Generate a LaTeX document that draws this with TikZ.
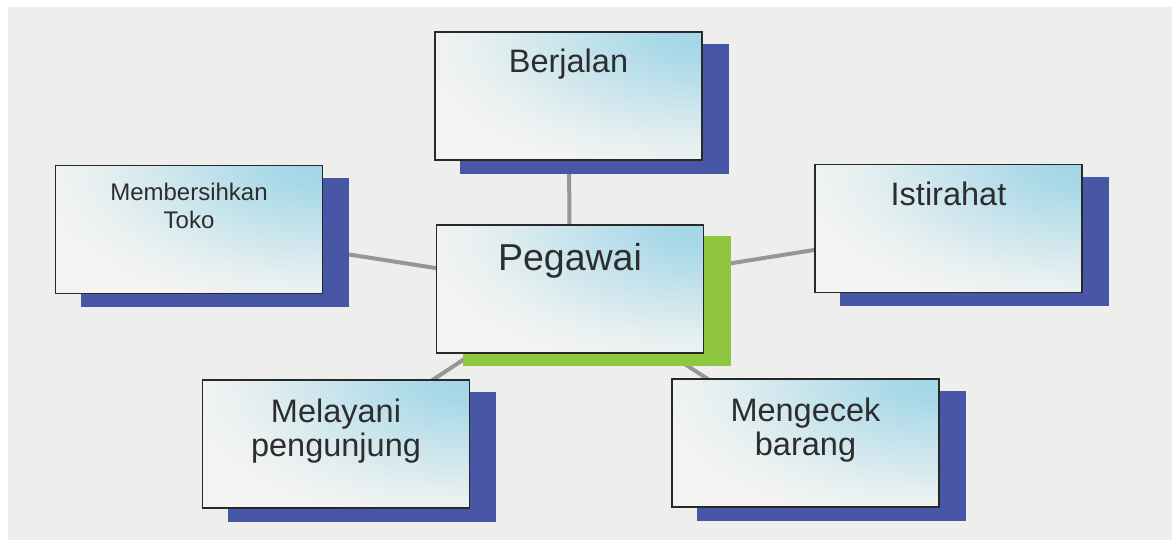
\documentclass[tikz,border=0pt]{standalone}
\usepackage{fontspec}
\setmainfont{Liberation Sans}
\usetikzlibrary{backgrounds}

\definecolor{paper}{RGB}{238,238,236}
\definecolor{boxblue}{RGB}{162,214,231}
\definecolor{boxpale}{RGB}{243,244,242}
\definecolor{shadeblue}{RGB}{72,86,166}
\definecolor{shadegreen}{RGB}{142,198,64}
\definecolor{linkgray}{RGB}{150,150,150}
\definecolor{inkgray}{RGB}{45,45,45}
\definecolor{edgegray}{RGB}{40,40,40}

% sky-blue glow spreading from the upper right corner of each box
\pgfdeclareradialshading{cornerglow}{\pgfpointorigin}{%
  color(0bp)=(boxblue); color(4bp)=(boxblue!92!boxpale);
  color(12.5bp)=(boxblue!50!boxpale); color(20bp)=(boxblue!14!boxpale);
  color(25bp)=(boxpale); color(50bp)=(boxpale)}

% box text: size, line skip, height of the first line above its baseline
\newcommand\tasktext[4]{\parbox[c][128pt][t]{262pt}{\centering\fontsize{#1}{#2}\selectfont\rule{0pt}{#3}#4\par}}

\tikzset{
  task/.style={draw=edgegray, line width=1.3pt, fill=boxpale,
    path picture={\shade[shading=cornerglow] (path picture bounding box.north east)
      ellipse [x radius=285pt, y radius=145pt];},
    minimum width=267pt, minimum height=128pt, inner sep=0pt, text=inkgray},
  link/.style={draw=linkgray, line width=4pt},
}

\begin{document}
\begin{tikzpicture}[x=1pt,y=-1pt]
  \useasboundingbox (0,0) rectangle (1172,540);

  % activity boxes
  \node[task] (ber) at (568.5,96)  {\tasktext{32.5}{35}{41pt}{Berjalan}};
  \node[task] (peg) at (570,289)   {\tasktext{37.5}{40}{45pt}{Pegawai}};
  \node[task] (mem) at (189,229.5) {\tasktext{24}{28}{35pt}{Membersihkan\\Toko}};
  \node[task] (ist) at (948.5,228.5) {\tasktext{32.5}{35}{41pt}{Istirahat}};
  \node[task] (mel) at (336,444)   {\tasktext{32.5}{34}{42pt}{Melayani\\pengunjung}};
  \node[task] (men) at (805.5,443) {\tasktext{32.5}{34}{42pt}{Mengecek\\barang}};

  \begin{scope}[on background layer]
    % paper
    \fill[white] (0,0) rectangle (1172,540);
    \fill[paper] (8,7) rectangle (1172,540);
    % connectors between box centres
    \foreach \n in {ber,mem,ist,mel,men}
      \draw[link] (peg.center) -- (\n.center);
    % offset shadows
    \foreach \n in {ber,mem,ist,mel,men}
      \fill[shadeblue] ([xshift=26pt,yshift=-13pt]\n.south west) rectangle ([xshift=26pt,yshift=-13pt]\n.north east);
    \fill[shadegreen] ([xshift=27pt,yshift=-12pt]peg.south west) rectangle ([xshift=27pt,yshift=-12pt]peg.north east);
  \end{scope}
\end{tikzpicture}
\end{document}
